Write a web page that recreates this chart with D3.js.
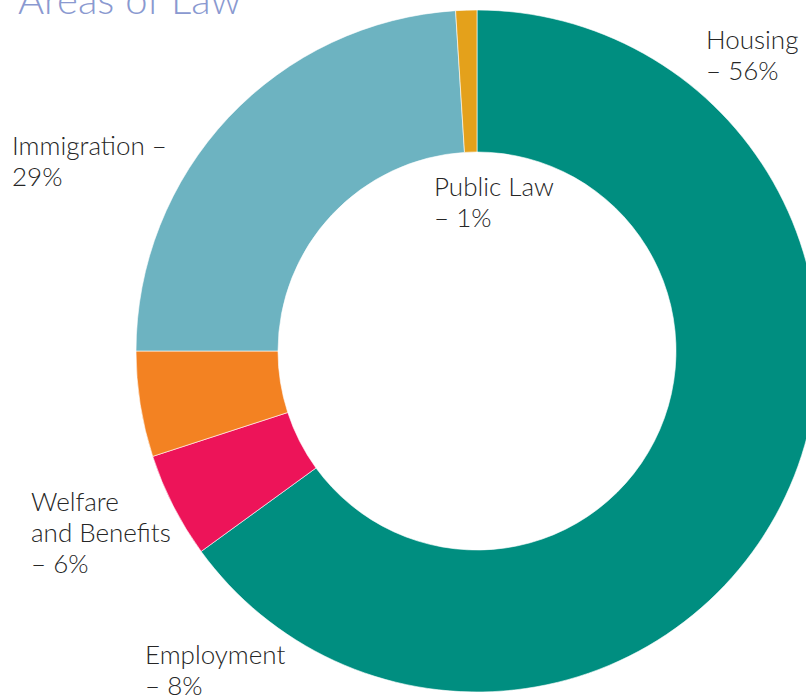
<!DOCTYPE html>
<html>
<head>
<meta charset="utf-8">
<script src="https://cdn.jsdelivr.net/npm/d3@7"></script>
<style>
  html, body { margin: 0; padding: 0; background: #fff; }
  svg { display: block; }
  .label { font-family: Lato, "Open Sans", sans-serif; font-size: 26px; font-weight: 300; fill: #262626; }
  .title { font-family: Lato, "Open Sans", sans-serif; font-size: 40px; font-weight: 300; fill: #8a99d0; }
</style>
</head>
<body>
<div id="chart"></div>
<script>
// Ring slices, clockwise from 12 o'clock (share of the ring, %).
var sliceValues = [65, 5, 5, 24, 1];
var sliceColors = ["#008e80", "#ed1459", "#f38222", "#6db3c1", "#e4a11b"];

// Annotation texts, one entry per label, one string per line.
var labelTexts = [
    ["Housing", "\u2013 56%"],
    ["Immigration \u2013", "29%"],
    ["Public Law", "\u2013 1%"],
    ["Welfare", "and Benefits", "\u2013 6%"],
    ["Employment", "\u2013 8%"]
];
var titleText = "Areas of Law";

// Layout only.
var width = 806, height = 696;
var cx = 477, cy = 351, outerR = 341, innerR = 199;
var labelPos = [[706, 49], [12, 155], [434, 196], [31, 511], [145, 664]];
var lineGap = 31;

var svg = d3.select("#chart").append("svg")
    .attr("width", width)
    .attr("height", height);

var pie = d3.pie().sort(null).value(function (d) { return d; });
var arc = d3.arc().innerRadius(innerR).outerRadius(outerR);

svg.append("g")
    .attr("transform", "translate(" + [cx, cy] + ")")
    .selectAll("path")
    .data(pie(sliceValues))
    .enter().append("path")
    .attr("d", arc)
    .attr("fill", function (d, i) { return sliceColors[i]; })
    .attr("stroke", "#ffffff")
    .attr("stroke-width", 0.6);

svg.append("text")
    .attr("class", "title")
    .attr("x", 18)
    .attr("y", 14)
    .text(titleText);

var labels = svg.append("g").selectAll("text")
    .data(labelTexts)
    .enter().append("text")
    .attr("class", "label")
    .attr("x", function (d, i) { return labelPos[i][0]; })
    .attr("y", function (d, i) { return labelPos[i][1]; });

labels.selectAll("tspan")
    .data(function (d, i) { return d.map(function (t) { return {t: t, x: labelPos[i][0]}; }); })
    .enter().append("tspan")
    .attr("x", function (d) { return d.x; })
    .attr("dy", function (d, j) { return j === 0 ? 0 : lineGap; })
    .text(function (d) { return d.t; });
</script>
</body>
</html>
